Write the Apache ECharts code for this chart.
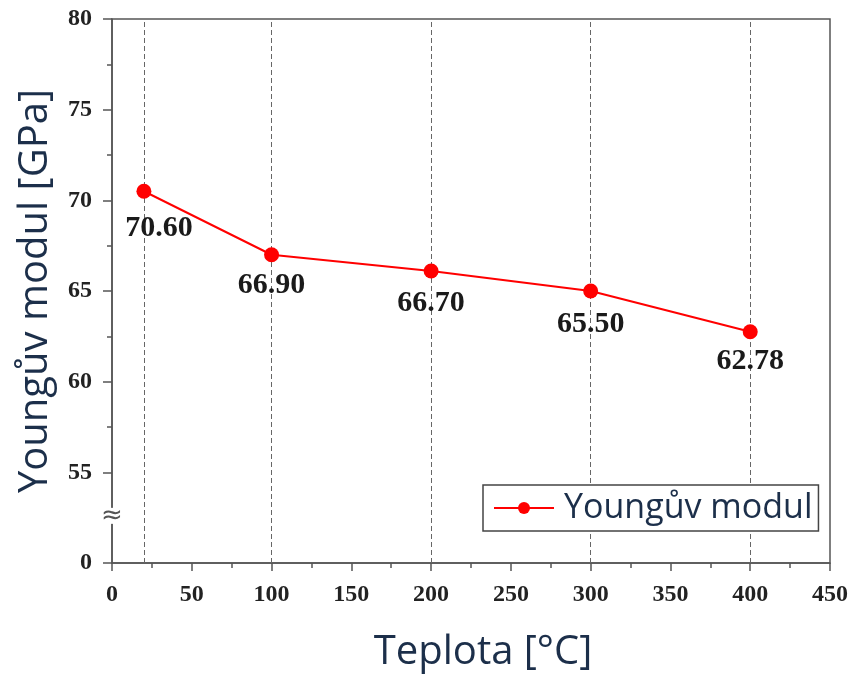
<!DOCTYPE html>
<html>
<head>
<meta charset="utf-8">
<script src="https://cdn.jsdelivr.net/npm/echarts@6/dist/echarts.min.js"></script>
<style>
html,body{margin:0;padding:0;background:#fff;}
#c{width:862px;height:679px;}
</style>
</head>
<body>
<div id="c"></div>
<script>
// Temperatures (x) and Young's modulus (plotted position) with printed labels
const temps = [20, 100, 200, 300, 400];
const modulus = [70.5, 67.0, 66.1, 65.0, 62.75];
const valueLabels = ['70.60', '66.90', '66.70', '65.50', '62.78'];
const xTicks = [0, 50, 100, 150, 200, 250, 300, 350, 400, 450];
const yTicks = ['0', '55', '60', '65', '70', '75', '80']; // 0 shown at the axis break
const seriesName = 'Youngův modul';
const xTitle = 'Teplota [°C]';
const yTitle = 'Youngův modul [GPa]';

// label nudges (style only)
const labelNudge = [[15, 4], [0, -2], [0, 0], [0, 1], [0, -3]];

const chart = echarts.init(document.getElementById('c'));
const titleFont = '"Open Sans", sans-serif';
const titleColor = '#1c2f4a';
const axisColor = '#555';

const points = temps.map((t, i) => ({
  value: [t, modulus[i]],
  label: { formatter: valueLabels[i], offset: labelNudge[i] }
}));

chart.setOption({
  animation: false,
  grid: { left: 112, right: 32, top: 19, bottom: 116, show: true, borderColor: axisColor, borderWidth: 1.5 },
  legend: {
    left: 483, top: 485,
    padding: [6, 6, 6, 10],
    itemWidth: 60, itemHeight: 15,
    borderColor: '#444', borderWidth: 1.5, backgroundColor: '#fff',
    textStyle: { fontFamily: titleFont, fontSize: 34, color: titleColor, padding: [0, 0, 0, 5] },
    data: [{ name: seriesName }]
  },
  xAxis: {
    type: 'value', min: 0, max: 450, interval: 50,
    name: xTitle, nameLocation: 'middle', nameGap: 70,
    nameTextStyle: { fontFamily: titleFont, fontSize: 40, color: titleColor, padding: [0, 0, 0, 24] },
    axisLine: { lineStyle: { color: axisColor, width: 1.5 } },
    axisTick: { show: true, inside: false, length: 8, lineStyle: { color: axisColor, width: 1.5 } },
    minorTick: { show: true, splitNumber: 2, length: 5, lineStyle: { color: axisColor, width: 1.5 } },
    splitLine: { show: false },
    axisLabel: {
      margin: 20, fontFamily: '"Liberation Serif", serif', fontWeight: 'bold', fontSize: 24, color: '#222',
      formatter: v => String(xTicks[xTicks.indexOf(v)])
    }
  },
  yAxis: {
    type: 'value', min: 50, max: 80, interval: 5,
    name: yTitle, nameLocation: 'middle', nameGap: 56,
    nameTextStyle: { fontFamily: titleFont, fontSize: 40, color: titleColor },
    axisLine: { show: true, lineStyle: { color: axisColor, width: 1.5 } },
    axisTick: { show: true, inside: false, length: 9, lineStyle: { color: axisColor, width: 1.5 } },
    minorTick: { show: true, splitNumber: 2, length: 5, lineStyle: { color: axisColor, width: 1.5 } },
    splitLine: { show: false },
    axisLabel: {
      margin: 20, fontFamily: '"Liberation Serif", serif', fontWeight: 'bold', fontSize: 24, color: '#222',
      formatter: v => yTicks[Math.round((v - 50) / 5)]
    }
  },
  series: [{
    name: seriesName,
    type: 'line',
    data: points,
    symbol: 'circle', symbolSize: 15,
    itemStyle: { color: '#ff0000' },
    lineStyle: { color: '#ff0000', width: 2 },
    label: {
      show: true, position: 'bottom', distance: 10,
      fontFamily: '"Liberation Serif", serif', fontWeight: 'bold', fontSize: 30, color: '#1a1a1a'
    },
    markLine: {
      silent: true, symbol: 'none', z: 1,
      label: { show: false },
      lineStyle: { type: [5, 3], color: '#666', width: 1 },
      data: temps.map(t => ({ xAxis: t }))
    },
    markPoint: {
      silent: true,
      symbol: 'rect', symbolSize: [12, 16],
      itemStyle: { color: '#fff' },
      label: { show: true, formatter: '≈', fontSize: 26, color: '#555', fontFamily: '"DejaVu Sans", sans-serif' },
      data: [{ coord: [0, 52.6] }]
    }
  }]
});
</script>
</body>
</html>
